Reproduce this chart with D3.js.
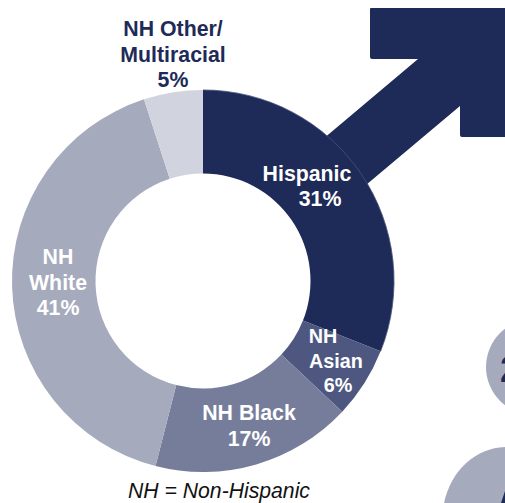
<!DOCTYPE html>
<html><head><meta charset="utf-8">
<script src="https://cdn.jsdelivr.net/npm/d3@7"></script>
<style>html,body{margin:0;padding:0;background:#fff;overflow:hidden}svg{display:block}text{font-family:"Liberation Sans",Arial,sans-serif}</style>
</head><body>
<svg id="c" width="505" height="503"></svg>
<script>
const categories = ["Hispanic","NH Asian","NH Black","NH White","NH Other/Multiracial"];
const values = [31,6,17,41,5];
const colors = ["#1e2a57","#4d5780","#767d9b","#a6aabd","#d1d4de"];
const labelLines = [["Hispanic","31%"],["NH","Asian","6%"],["NH Black","17%"],["NH","White","41%"],["NH Other/","Multiracial","5%"]];
const labelX = [[307,320],[323,336,338],[249,249],[58,58,58],[173,173,173]];
const labelY = [[181,206],[343,368,392],[420,446],[264,290,315],[36,62,87]];
const labelSizes = [21.3,19.8,21.3,21.3,21.3];
const labelColors = ["#fff","#fff","#fff","#fff","#1e2a57"];
const note = "NH = Non-Hispanic";
const navy = "#1e2a57", gray = "#a6aabd";
const svg = d3.select("#c");
const cx = 203, cy = 281, R = 191, r = 107.5;

// male symbol arrow
svg.append("path").attr("fill",navy)
  .attr("d","M371,8 L505,8 L505,137 L462,137 Q460,137 460,135 L460,106 L360,190 L310,150 L418,59 L372,59 Q370,59 370,57 L370,9 Q370,8 371,8 Z");

// donut
const pie = d3.pie().sort(null).value(d=>d)(values);
const arc = d3.arc().innerRadius(r).outerRadius(R);
const g = svg.append("g").attr("transform",`translate(${cx},${cy})`);
g.selectAll("path.slice").data(pie).join("path").attr("class","slice")
  .attr("d",arc).attr("fill",(d,i)=>colors[i]);
// faint rim where the first slice sits over the arrow
g.append("path").datum(pie[0]).attr("fill","none").attr("stroke","#47527a").attr("stroke-width",0.5)
  .attr("d",d3.arc().innerRadius(R).outerRadius(R));

// labels
labelLines.forEach((lines,i)=>{
  const t = svg.append("text").attr("text-anchor","middle")
    .attr("font-size",labelSizes[i]).attr("font-weight",700).attr("fill",labelColors[i]);
  lines.forEach((l,j)=>{
    t.append("tspan").attr("x",labelX[i][j]).attr("y",labelY[i][j]).text(l);
  });
});

svg.append("text").attr("x",219).attr("y",498).attr("text-anchor","middle")
  .attr("font-size",21.2).attr("font-style","italic").attr("fill","#111").text(note);

// cropped figures at right edge
svg.append("circle").attr("cx",534).attr("cy",367).attr("r",48).attr("fill",gray);
svg.append("text").attr("x",500).attr("y",382).attr("font-size",36).attr("font-weight",700).attr("fill",navy).text("2");
svg.append("path").attr("fill",gray)
  .attr("d","M444,503 C451,470 476,448 505,447 L505,503 Z");
svg.append("path").attr("fill",navy).attr("d","M501,503 L505,491 L505,503 Z");
</script>
</body></html>
